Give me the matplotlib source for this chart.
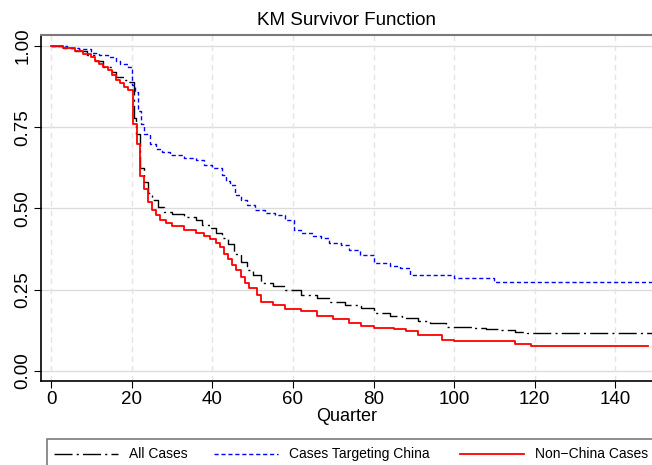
import matplotlib
matplotlib.use("Agg")
import matplotlib.pyplot as plt
from matplotlib.patches import Rectangle
from matplotlib.lines import Line2D

plt.rcParams["font.family"] = ["Liberation Sans", "DejaVu Sans"]

# Kaplan-Meier step values (quarter, survival)
ALL_T = [0, 3, 6, 9, 11, 13, 15, 16, 18, 19, 20.5, 21, 22, 23, 24, 25, 26.5, 28,
         30, 33, 36, 37.5, 39.5, 41, 42.5, 44, 45.5, 47, 48.5, 50, 52, 55, 58,
         62, 66, 69, 73, 77, 80, 84, 87, 91, 94, 98, 101, 105, 108, 111, 115,
         118, 149]
ALL_S = [1.0, 0.995, 0.985, 0.972, 0.955, 0.935, 0.92, 0.905, 0.895, 0.889,
         0.78, 0.73, 0.625, 0.58, 0.548, 0.525, 0.505, 0.49, 0.483, 0.474,
         0.465, 0.45, 0.44, 0.425, 0.41, 0.39, 0.36, 0.335, 0.31, 0.295, 0.27,
         0.26, 0.25, 0.235, 0.224, 0.213, 0.203, 0.194, 0.178, 0.17, 0.163,
         0.155, 0.149, 0.136, 0.135, 0.132, 0.13, 0.127, 0.12, 0.116, 0.116]

CHINA_T = [0, 4, 7, 10, 12, 14, 16, 17, 19, 20.2, 20.8, 21.5, 22.2, 23, 24.5,
           26, 27.5, 29.5, 33, 36, 38, 40, 42.4, 43.5, 44.5, 45.7, 47, 48.5,
           50.5, 53, 55.5, 58, 60.3, 62, 65, 67, 69, 72, 74, 76.7, 80, 84,
           86.6, 89, 100, 110, 149]
CHINA_S = [1.0, 0.995, 0.99, 0.98, 0.972, 0.965, 0.955, 0.945, 0.935, 0.88,
           0.86, 0.8, 0.76, 0.73, 0.7, 0.683, 0.673, 0.665, 0.655, 0.649,
           0.634, 0.625, 0.603, 0.585, 0.572, 0.54, 0.525, 0.51, 0.495, 0.486,
           0.48, 0.465, 0.434, 0.425, 0.415, 0.41, 0.395, 0.387, 0.372, 0.357,
           0.332, 0.323, 0.317, 0.295, 0.286, 0.275, 0.275]

NON_T = [0, 3, 6, 8, 10, 11, 12, 13, 14, 15, 16, 17, 18, 19, 20.3, 21.3, 22,
         23, 24, 25, 26, 27, 28.5, 30, 33, 36, 38, 39.5, 41, 42, 43, 44, 45,
         46, 47, 48, 49, 51, 52, 55, 58, 62, 66, 70, 74, 77, 80, 85, 88, 91,
         97, 100, 107, 115, 119, 148]
NON_S = [1.0, 0.993, 0.985, 0.975, 0.965, 0.955, 0.945, 0.935, 0.925, 0.91,
         0.895, 0.885, 0.875, 0.865, 0.76, 0.7, 0.6, 0.56, 0.52, 0.495, 0.48,
         0.465, 0.455, 0.445, 0.435, 0.425, 0.415, 0.405, 0.395, 0.38, 0.36,
         0.345, 0.325, 0.31, 0.29, 0.27, 0.255, 0.235, 0.212, 0.203, 0.192,
         0.183, 0.17, 0.16, 0.147, 0.138, 0.133, 0.128, 0.124, 0.11, 0.095,
         0.093, 0.091, 0.083, 0.077, 0.077]

X_TICKS = [0, 20, 40, 60, 80, 100, 120, 140]
Y_TICKS = [0.0, 0.25, 0.5, 0.75, 1.0]
Y_LABELS = ["0.00", "0.25", "0.50", "0.75", "1.00"]

W, H = 652, 465
fig = plt.figure(figsize=(W / 100, H / 100), dpi=100)
fig.patch.set_facecolor("white")
ax = fig.add_axes([41 / W, (H - 381) / H, 1 - 41 / W, (381 - 35) / H])

ax.set_xlim(-2.5, 149.1)
ax.set_ylim(-0.031, 1.034)

# grid: solid horizontal, dashed vertical
for y in Y_TICKS:
    ax.axhline(y, color="#dcdcdc", lw=1.0, zorder=0)
for x in X_TICKS:
    ax.axvline(x, color="#e4e4e4", lw=1.0, ls=(0, (4, 3)), zorder=0)

BLACK_DASH = (0, (13, 3, 1.5, 3))
BLUE_DASH = (0, (3, 2))
ax.step(ALL_T, ALL_S, where="post", color="black", lw=1.0, ls=BLACK_DASH, zorder=3)
ax.step(CHINA_T, CHINA_S, where="post", color="#0000ff", lw=1.0, ls=BLUE_DASH, zorder=3)
ax.step(NON_T, NON_S, where="post", color="#ff0000", lw=1.3, zorder=4)

ax.set_xticks(X_TICKS)
ax.set_yticks(Y_TICKS)
ax.set_yticklabels(Y_LABELS, rotation=90, va="center")
ax.tick_params(axis="both", direction="out", length=5, width=0.8,
               labelsize=13.5, color="black")
ax.tick_params(axis="x", pad=2)
ax.tick_params(axis="y", pad=2)

ax.spines["right"].set_visible(False)
ax.spines["top"].set_color("#7a7a7a")
ax.spines["top"].set_linewidth(1.5)
ax.spines["left"].set_linewidth(1.2)
ax.spines["bottom"].set_linewidth(1.2)

ax.set_title("KM Survivor Function", fontsize=13.5, pad=7)
ax.set_xlabel("Quarter", fontsize=13, labelpad=0)

# legend box at the bottom (runs off the figure edge like the reference)
fig.patches.append(Rectangle((47 / W, -0.05), 1.0, (H - 439) / H + 0.05,
                             transform=fig.transFigure, facecolor="white",
                             edgecolor="#7a7a7a", lw=1.2))
entries = [("All Cases", "black", BLACK_DASH, 54),
           ("Cases Targeting China", "#0000ff", BLUE_DASH, 214),
           ("Non\u2212China Cases", "#ff0000", "-", 460)]
ly = (H - 454) / H
for label, col, ls, x0 in entries:
    fig.lines.append(Line2D([x0 / W, (x0 + 64) / W], [ly, ly], transform=fig.transFigure,
                            color=col, ls=ls, lw=1.0 if ls != "-" else 1.3))
    fig.text((x0 + 75) / W, ly, label, fontsize=10, va="center", ha="left")

fig.savefig("out.png", dpi=100)
